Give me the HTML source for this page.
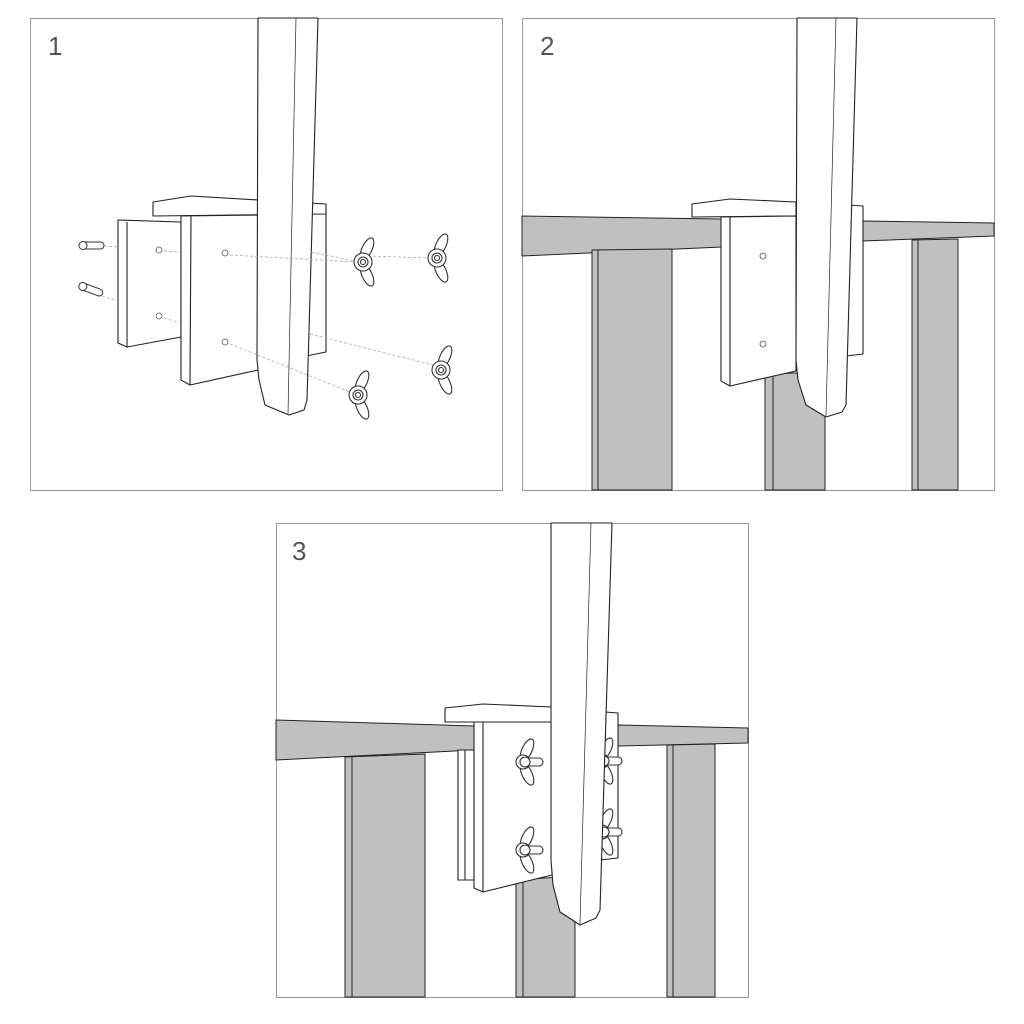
<!DOCTYPE html>
<html><head><style>body{margin:0;background:#fff}svg{display:block}</style></head><body>
<svg width="1024" height="1024" viewBox="0 0 1024 1024" xmlns="http://www.w3.org/2000/svg" font-family="Liberation Sans, sans-serif">
<defs>
<g id="wn" fill="#fff" stroke="#333" stroke-width="1.1">
<ellipse cx="4" cy="-12" rx="5" ry="12" transform="rotate(25 4 -12)"/>
<ellipse cx="4" cy="14" rx="5" ry="12" transform="rotate(-25 4 14)"/>
<circle cx="0" cy="1" r="9"/><circle cx="0" cy="1" r="5"/><circle cx="0" cy="1" r="2.5"/>
</g>
<g id="wns" fill="#fff" stroke="#333" stroke-width="1.1">
<ellipse cx="2" cy="-12" rx="5" ry="12" transform="rotate(25 2 -12)"/>
<ellipse cx="2" cy="12" rx="5" ry="12" transform="rotate(-25 2 12)"/>
<circle cx="-2" cy="0" r="7"/>
<rect x="0" y="-4" width="18" height="8" rx="4"/><circle cx="0" cy="0" r="5"/>
</g>
</defs>
<g fill="none" stroke="#999" stroke-width="1">
<rect x="30.5" y="18.5" width="472" height="472"/>
<rect x="522.5" y="18.5" width="472" height="472"/>
<rect x="276.5" y="523.5" width="472" height="474"/>
</g>
<g fill="#555" font-size="26">
<text x="48" y="55">1</text><text x="540" y="55">2</text><text x="292" y="560">3</text>
</g>

<!-- PANEL 1 -->
<g stroke="#222" stroke-width="1.1" fill="#fff" stroke-linejoin="round">
<path d="M118,220 L181,222 L181,337 L127,347 L118,343 Z"/><path d="M127,222 L127,347" fill="none"/>
<path d="M306,214 L326,214 L326,352 L306,356 Z"/>
<path d="M153,202 L191,196 L326,204 L326,214 L153,216 Z"/>
<path d="M181,216 L258,215 L258,370 L190,385 L181,380 Z"/><path d="M191,215 L190,385" fill="none"/>
<path d="M258,18 L318,18 L307,400 L304,410 L289,415 L265,405 L259,380 L257,360 Z"/>
<path d="M296,18 L288,414" fill="none" stroke-width=".7"/>
</g>
<g fill="#fff" stroke="#555" stroke-width=".8">
<circle cx="159" cy="250" r="3"/><circle cx="159" cy="316" r="3"/><circle cx="225" cy="253" r="3"/><circle cx="225" cy="342" r="3"/>
</g>
<g stroke="#aaa" stroke-width=".8" stroke-dasharray="3,2" fill="none">
<path d="M104,246 L118,247"/><path d="M102,296 L118,301"/><path d="M164,251 L181,252"/><path d="M164,318 L181,323"/>
<path d="M230,255 L355,262"/><path d="M311,252 L355,261"/><path d="M368,256 L432,258"/>
<path d="M230,344 L350,392"/><path d="M310,334 L433,365"/>
</g>
<g fill="#fff" stroke="#333" stroke-width="1">
<rect x="80" y="242" width="24" height="7" rx="3.5"/><circle cx="83" cy="245.5" r="4"/>
<g transform="rotate(20 83 286)"><rect x="80" y="283" width="24" height="7" rx="3.5"/><circle cx="83" cy="286.5" r="4"/></g>
</g>
<use href="#wn" x="363" y="261"/><use href="#wn" x="437" y="257"/>
<use href="#wn" x="358" y="394"/><use href="#wn" x="441" y="369"/>

<!-- PANEL 2 -->
<g stroke="#222" stroke-width="1" stroke-linejoin="round">
<path d="M522,216 L722,219 L722,247 L522,256 Z" fill="#c0c0c0"/>
<path d="M862,221 L994,223 L994,236 L862,241 Z" fill="#c0c0c0"/>
<path d="M592,250 L672,249 L672,490 L592,490 Z" fill="#c0c0c0"/><path d="M598,250 L598,490" fill="none"/>
<path d="M912,240 L958,239 L958,490 L912,490 Z" fill="#c0c0c0"/><path d="M918,240 L918,490" fill="none"/>
<path d="M765,374 L825,372 L825,490 L765,490 Z" fill="#c0c0c0"/><path d="M773,374 L773,490" fill="none"/>
</g>
<g stroke="#222" stroke-width="1.1" fill="#fff" stroke-linejoin="round">
<path d="M848,205 L863,206 L863,354 L846,356 Z"/>
<path d="M692,204 L730,199 L796,202 L796,216 L692,217 Z"/>
<path d="M721,217 L796,216 L796,371 L730,386 L721,381 Z"/><path d="M730,217 L730,386" fill="none"/>
<path d="M797,18 L857,18 L846,405 L842,412 L826,417 L806,405 L798,380 L796,360 Z"/>
<path d="M836,18 L826,416" fill="none" stroke-width=".7"/>
</g>
<g fill="#fff" stroke="#555" stroke-width=".8"><circle cx="763" cy="256" r="3"/><circle cx="763" cy="344" r="3"/></g>

<!-- PANEL 3 -->
<g stroke="#222" stroke-width="1" stroke-linejoin="round">
<path d="M276,720 L474,726 L474,750 L276,760 Z" fill="#c0c0c0"/>
<path d="M618,725 L748,728 L748,743 L618,746 Z" fill="#c0c0c0"/>
<path d="M345,757 L425,754 L425,997 L345,997 Z" fill="#c0c0c0"/><path d="M352,757 L352,997" fill="none"/>
<path d="M667,745 L715,744 L715,997 L667,997 Z" fill="#c0c0c0"/><path d="M673,745 L673,997" fill="none"/>
<path d="M516,880 L575,876 L575,997 L516,997 Z" fill="#c0c0c0"/><path d="M523,880 L523,997" fill="none"/>
</g>
<g stroke="#222" stroke-width="1.1" fill="#fff" stroke-linejoin="round">
<path d="M458,750 L474,750 L474,880 L458,880 Z"/><path d="M465,750 L465,880" fill="none"/>
<path d="M605,712 L618,713 L618,858 L600,860 Z"/>
<path d="M445,708 L483,704 L552,707 L552,722 L445,722 Z"/>
<path d="M474,722 L552,722 L552,875 L483,892 L474,888 Z"/><path d="M483,722 L483,892" fill="none"/>
</g>
<use href="#wns" x="525" y="762"/><use href="#wns" x="525" y="850"/>
<use href="#wns" x="604" y="761"/><use href="#wns" x="604" y="832"/>
<g stroke="#222" stroke-width="1.1" fill="#fff" stroke-linejoin="round">
<path d="M551,523 L612,523 L600,910 L596,918 L580,925 L560,912 L553,885 L551,860 Z"/>
<path d="M591,523 L580,924" fill="none" stroke-width=".7"/>
</g>
</svg>
</body></html>
